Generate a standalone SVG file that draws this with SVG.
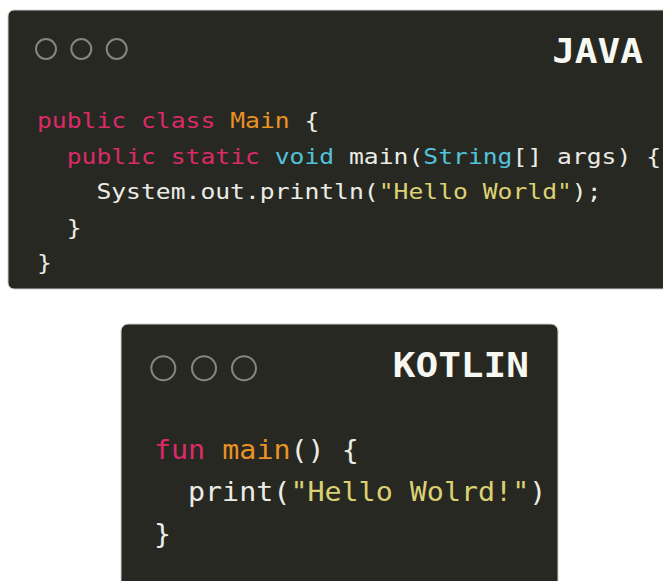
<svg xmlns="http://www.w3.org/2000/svg" width="663" height="581" viewBox="0 0 663 581">
<style>
.card{fill:#272822;stroke:#cfcfcf;stroke-width:1}
.dot{fill:none;stroke:#86867f;stroke-width:2}
.title{font-family:"DejaVu Sans Mono",monospace;font-weight:bold;font-size:34px;fill:#f8f8f2;text-anchor:end}
.code{font-family:"DejaVu Sans Mono",monospace;fill:#ecece6}
.j{font-size:22px}
.k{font-size:27px}
.kw{fill:#dc2a68}
.fn{fill:#ea9224}
.ty{fill:#52c2da}
.st{fill:#dbd172}
</style>
<rect width="663" height="581" fill="#ffffff"/>
<g id="java-card">
<rect class="card" x="8" y="10" width="700" height="279" rx="6"/>
<circle class="dot" cx="46" cy="49" r="10"/>
<circle class="dot" cx="81.3" cy="49" r="10"/>
<circle class="dot" cx="116.7" cy="49" r="10"/>
<text class="title" transform="translate(643,63) scale(1.11,1)">JAVA</text>
<text class="code j" xml:space="preserve" transform="translate(37,128) scale(1.122,1)"><tspan class="kw">public class</tspan> <tspan class="fn">Main</tspan> {</text>
<text class="code j" xml:space="preserve" transform="translate(66.7,163.5) scale(1.122,1)"><tspan class="kw">public static</tspan> <tspan class="ty">void</tspan> main(<tspan class="ty">String</tspan>[] args) {</text>
<text class="code j" xml:space="preserve" transform="translate(96.4,199) scale(1.122,1)">System.out.println(<tspan class="st">"Hello World"</tspan>);</text>
<text class="code j" transform="translate(66.7,234.5) scale(1.122,1)">}</text>
<text class="code j" transform="translate(37,270) scale(1.122,1)">}</text>
</g>
<g id="kotlin-card">
<rect class="card" x="121" y="324" width="437" height="300" rx="7"/>
<circle class="dot" cx="163.3" cy="368.3" r="12"/>
<circle class="dot" cx="204" cy="368.3" r="12"/>
<circle class="dot" cx="244" cy="368.3" r="12"/>
<text class="title" transform="translate(529,377.3) scale(1.11,1)">KOTLIN</text>
<text class="code k" xml:space="preserve" transform="translate(154,459) scale(1.05,1)"><tspan class="kw">fun</tspan> <tspan class="fn">main</tspan>() {</text>
<text class="code k" xml:space="preserve" transform="translate(188,501) scale(1.05,1)">print(<tspan class="st">"Hello Wolrd!"</tspan>)</text>
<text class="code k" transform="translate(154,543) scale(1.05,1)">}</text>
</g>
<g id="connectors"/>
</svg>
